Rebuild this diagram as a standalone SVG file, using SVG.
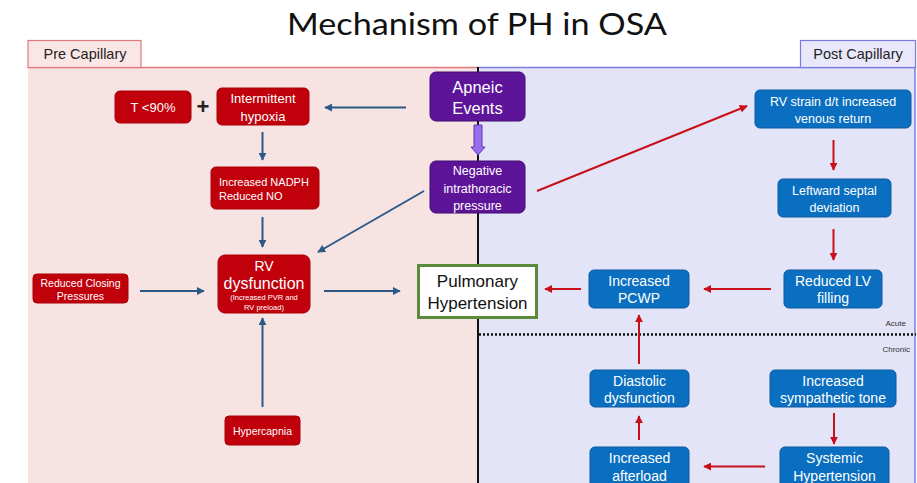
<svg xmlns="http://www.w3.org/2000/svg" width="917" height="483" viewBox="0 0 917 483">
<style>
  text { font-family: "Liberation Sans", Arial, sans-serif; }
  .w { fill: #ffffff; text-anchor: middle; }
  .red { fill: #c0000b; stroke: #a80008; stroke-width: 1; }
  .pur { fill: #5e1499; stroke: #3e0c70; stroke-width: 1; }
  .blu { fill: #0a6fc0; stroke: #0a5aa0; stroke-width: 1; }
  .cb { stroke: #2b5a86; stroke-width: 2; fill: none; marker-end: url(#ab); }
  .cr { stroke: #c8101a; stroke-width: 2; fill: none; marker-end: url(#ar); }
  .tab { font-size: 14.5px; fill: #222; text-anchor: middle; }
</style>
<defs>
  <marker id="ab" viewBox="0 0 10 10" refX="9" refY="5" markerWidth="4" markerHeight="4" orient="auto" markerUnits="strokeWidth">
    <path d="M0,0 L10,5 L0,10 z" fill="#2b5a86"/>
  </marker>
  <marker id="ar" viewBox="0 0 10 10" refX="9" refY="5" markerWidth="4" markerHeight="4" orient="auto" markerUnits="strokeWidth">
    <path d="M0,0 L10,5 L0,10 z" fill="#c8101a"/>
  </marker>
</defs>
<rect x="0" y="0" width="917" height="483" fill="#ffffff"/>
<!-- title -->
<text x="477" y="35" font-size="31" fill="#111" text-anchor="middle" textLength="380" lengthAdjust="spacingAndGlyphs" style="font-family:Lato,'Liberation Sans',sans-serif">Mechanism of PH in OSA</text>
<!-- regions -->
<g id="regions">
  <rect x="28" y="67" width="450" height="420" fill="#f8e3e3"/>
  <rect x="478" y="67" width="437" height="420" fill="#e4e4f8"/>
  <line x1="28" y1="67.5" x2="478" y2="67.5" stroke="#e07a7a" stroke-width="1.5"/>
  <line x1="478" y1="67.5" x2="915" y2="67.5" stroke="#7a7ae0" stroke-width="1.5"/>
  <line x1="915" y1="67" x2="915" y2="483" stroke="#7a7ae0" stroke-width="1.5"/>
  <line x1="478" y1="67" x2="478" y2="483" stroke="#111" stroke-width="2"/>
  <line x1="479" y1="334.5" x2="916" y2="334.5" stroke="#111" stroke-width="2.5" stroke-dasharray="2 2"/>
</g>
<g id="tab-pre">
  <rect x="28" y="40.5" width="113" height="27" fill="#fbe6e6" stroke="#e07a7a" stroke-width="1.2"/>
  <text class="tab" x="85" y="59">Pre Capillary</text>
</g>
<g id="tab-post">
  <rect x="800.5" y="40.5" width="115" height="27" fill="#e8e8fa" stroke="#7a7ae0" stroke-width="1.2"/>
  <text class="tab" x="858" y="59">Post Capillary</text>
</g>
<text x="906" y="326" font-size="8" fill="#333" text-anchor="end">Acute</text>
<text x="910" y="352" font-size="8" fill="#333" text-anchor="end">Chronic</text>

<!-- connectors -->
<g id="connectors">
  <line class="cb" x1="406" y1="107.5" x2="325" y2="107.5"/>
  <line class="cb" x1="262.5" y1="132" x2="262.5" y2="160"/>
  <line class="cb" x1="262.5" y1="217" x2="262.5" y2="247"/>
  <line class="cb" x1="424" y1="191" x2="318" y2="252"/>
  <line class="cb" x1="140" y1="291" x2="204" y2="291"/>
  <line class="cb" x1="324" y1="291" x2="400" y2="291"/>
  <line class="cb" x1="262.5" y1="407" x2="262.5" y2="318"/>
  <line class="cr" x1="537" y1="191" x2="747" y2="106"/>
  <line class="cr" x1="833.5" y1="140" x2="833.5" y2="170"/>
  <line class="cr" x1="833.5" y1="229" x2="833.5" y2="260"/>
  <line class="cr" x1="771" y1="289" x2="704" y2="289"/>
  <line class="cr" x1="581" y1="289" x2="545" y2="289"/>
  <line class="cr" x1="639" y1="364" x2="639" y2="315"/>
  <line class="cr" x1="834" y1="413" x2="834" y2="444"/>
  <line class="cr" x1="765" y1="466.5" x2="704" y2="466.5"/>
  <line class="cr" x1="639" y1="440" x2="639" y2="416"/>
  <path d="M474,125 H482 V147 H485 L478,155 L471,147 H474 Z" fill="#9a6cf0" stroke="#5a3aa8" stroke-width="1"/>
</g>

<!-- nodes -->
<g id="t90">
  <rect class="red" x="115" y="91" width="76" height="32" rx="5"/>
  <text class="w" x="153" y="111.5" font-size="13">T &lt;90%</text>
</g>
<text x="203" y="114" font-size="22" font-weight="bold" fill="#222" text-anchor="middle">+</text>
<g id="hypoxia">
  <rect class="red" x="217" y="88" width="92" height="37" rx="5"/>
  <text class="w" x="263" y="102.5" font-size="13">Intermittent</text>
  <text class="w" x="263" y="121" font-size="13">hypoxia</text>
</g>
<g id="nadph">
  <rect class="red" x="211" y="167" width="108" height="42" rx="5"/>
  <text x="219" y="185.5" font-size="11" fill="#fff">Increased NADPH</text>
  <text x="219" y="199.5" font-size="11" fill="#fff">Reduced NO</text>
</g>
<g id="rvdys">
  <rect class="red" x="218" y="255" width="92" height="58" rx="7"/>
  <text class="w" x="264" y="271" font-size="14">RV</text>
  <text class="w" x="264" y="289" font-size="16">dysfunction</text>
  <text class="w" x="264" y="300" font-size="7.5">(Increased PVR and</text>
  <text class="w" x="264" y="309.5" font-size="7.5">RV preload)</text>
</g>
<g id="closing">
  <rect class="red" x="33" y="274" width="95" height="29" rx="4"/>
  <text class="w" x="80.5" y="286.5" font-size="10.5">Reduced Closing</text>
  <text class="w" x="80.5" y="299.5" font-size="10.5">Pressures</text>
</g>
<g id="hypercapnia">
  <rect class="red" x="225" y="416" width="75" height="29" rx="4"/>
  <text class="w" x="262.5" y="434.5" font-size="10.5">Hypercapnia</text>
</g>
<g id="apneic">
  <rect class="pur" x="430" y="72" width="95" height="49" rx="6"/>
  <text class="w" x="477.5" y="92.5" font-size="16.5">Apneic</text>
  <text class="w" x="477.5" y="114" font-size="16.5">Events</text>
</g>
<g id="negative">
  <rect class="pur" x="430" y="161" width="95" height="52" rx="6"/>
  <text class="w" x="477.5" y="175" font-size="12.5">Negative</text>
  <text class="w" x="477.5" y="192.5" font-size="12.5">intrathoracic</text>
  <text class="w" x="477.5" y="210" font-size="12.5">pressure</text>
</g>
<g id="pulmonary">
  <rect x="418.5" y="265.5" width="118" height="52" fill="#fff" stroke="#5a8a3a" stroke-width="3"/>
  <text x="477.5" y="287" font-size="17" fill="#111" text-anchor="middle">Pulmonary</text>
  <text x="477.5" y="308.5" font-size="17" fill="#111" text-anchor="middle">Hypertension</text>
</g>
<g id="rvstrain">
  <rect class="blu" x="755" y="90" width="156" height="38" rx="5"/>
  <text class="w" x="833" y="105.5" font-size="12.5">RV strain d/t increased</text>
  <text class="w" x="833" y="123" font-size="12.5">venous return</text>
</g>
<g id="septal">
  <rect class="blu" x="778" y="179" width="113" height="38" rx="5"/>
  <text class="w" x="834.5" y="194.5" font-size="12.5">Leftward septal</text>
  <text class="w" x="834.5" y="212" font-size="12.5">deviation</text>
</g>
<g id="lvfilling">
  <rect class="blu" x="784" y="270" width="98" height="38" rx="5"/>
  <text class="w" x="833" y="286" font-size="14">Reduced LV</text>
  <text class="w" x="833" y="303" font-size="14">filling</text>
</g>
<g id="pcwp">
  <rect class="blu" x="589" y="270" width="100" height="38" rx="5"/>
  <text class="w" x="639" y="286" font-size="14">Increased</text>
  <text class="w" x="639" y="303" font-size="14">PCWP</text>
</g>
<g id="diastolic">
  <rect class="blu" x="590" y="370" width="99" height="37" rx="5"/>
  <text class="w" x="639.5" y="385.5" font-size="14">Diastolic</text>
  <text class="w" x="639.5" y="402.5" font-size="14">dysfunction</text>
</g>
<g id="sympathetic">
  <rect class="blu" x="770" y="370" width="126" height="37" rx="5"/>
  <text class="w" x="833" y="385.5" font-size="14">Increased</text>
  <text class="w" x="833" y="402.5" font-size="14">sympathetic tone</text>
</g>
<g id="systemic">
  <rect class="blu" x="780" y="447" width="109" height="42" rx="5"/>
  <text class="w" x="834.5" y="463" font-size="14">Systemic</text>
  <text class="w" x="834.5" y="480.5" font-size="14">Hypertension</text>
</g>
<g id="afterload">
  <rect class="blu" x="590" y="447" width="99" height="42" rx="5"/>
  <text class="w" x="639.5" y="463" font-size="14">Increased</text>
  <text class="w" x="639.5" y="480.5" font-size="14">afterload</text>
</g>
</svg>
